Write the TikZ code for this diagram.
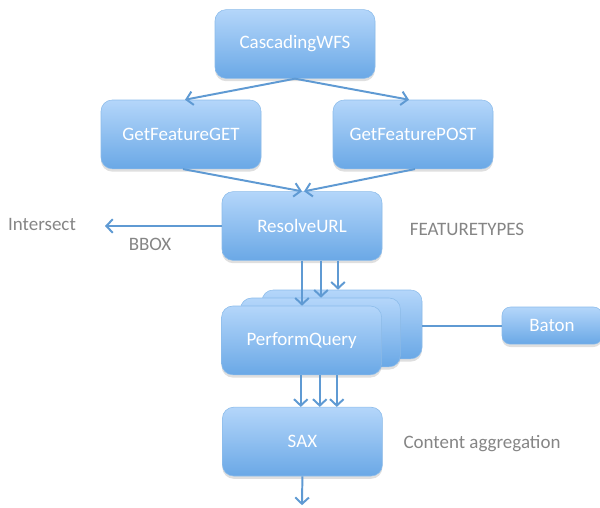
\documentclass[tikz,border=0pt]{standalone}
\usepackage{fontspec}
\setmainfont{Carlito}
\usetikzlibrary{arrows.meta, shadows, calc}
\definecolor{boxtop}{HTML}{B4D6FA}
\definecolor{boxbot}{HTML}{6AA8E6}
\definecolor{boxedge}{HTML}{8CBCEA}
\definecolor{linkcol}{HTML}{5F9AD3}
\definecolor{labgray}{HTML}{858585}
\begin{document}
\begin{tikzpicture}[
  every text node part/.style={align=center},
  font=\fontsize{13.5}{16}\selectfont,
  procsty/.style={draw=boxedge, top color=boxtop, bottom color=boxbot, rounded corners=8pt,
    text=white, minimum width=4cm, minimum height=1.72cm,
    drop shadow={opacity=0.25, shadow xshift=0pt, shadow yshift=-2pt}},
  smallsty/.style={procsty, minimum width=2.5cm, minimum height=0.93cm, rounded corners=6pt},
  arr/.style={draw=linkcol, line width=1.4pt, -{Straight Barb[length=1.6mm, width=3.4mm]}},
  link/.style={draw=linkcol, line width=1.4pt},
  lab/.style={text=labgray}
]
%general params
\def\dx{.475} %offset of second arrow
\def\ddx{.9}  %offset of third arrow

\useasboundingbox (0,0) rectangle (15,-12.7);

  \node[procsty] (CW)   at (7.375,-1.1)  {CascadingWFS};
  \node[procsty] (GET)  at (4.525,-3.36) {GetFeatureGET};
  \node[procsty] (POST) at (10.325,-3.36) {GetFeaturePOST};
  \node[procsty] (RU)   at (7.55,-5.65)  {ResolveURL};

  % stacked PerformQuery boxes
  \node[procsty] (PQb) at (8.55,-8.11) {};
  \node[procsty] (PQm) at (8.01,-8.31) {};
  \node[procsty] (PQ)  at (7.54,-8.51) {PerformQuery};

  \node[smallsty] (B)   at (13.8,-8.14) {Baton};
  \node[procsty]  (SAX) at (7.56,-11.04) {SAX};

  \node[lab] (IS) at (1.05,-5.6)   {Intersect};
  \node[lab] (BB) at (3.75,-6.1)   {BBOX};
  \node[lab] (FT) at (11.675,-5.725) {FEATURETYPES};
  \node[lab] (CA) at (12.05,-11.1) {Content aggregation};

  \coordinate (isend) at (2.625,-5.65);
  \coordinate (out)   at (7.55,-12.63);

  \draw[arr] (CW.south) -- ([xshift=.1cm]GET.north);
  \draw[arr] (CW.south) -- ([xshift=-.1cm]POST.north);
  \draw[arr] ([xshift=.05cm]GET.south) -- (RU.north);
  \draw[arr] ([xshift=.05cm]POST.south) -- ([xshift=.05cm]RU.north);

  \draw[arr] (RU.west) -- (isend);

  % three queries
  \coordinate (r1) at (RU.south);
  \coordinate (r2) at ([xshift=\dx cm]RU.south);
  \coordinate (r3) at ([xshift=\ddx cm]RU.south);
  \draw[arr] (r1) -- (r1 |- PQ.north);
  \draw[arr] (r2) -- (r2 |- PQm.north);
  \draw[arr] (r3) -- (r3 |- PQb.north);

  \coordinate (q1) at ([xshift=-.02cm]PQ.south);
  \coordinate (q2) at ([xshift=\dx cm]q1);
  \coordinate (q3) at ([xshift=\ddx cm]q1);
  \draw[arr] (q1) -- (q1 |- SAX.north);
  \draw[arr] (q2) -- (q2 |- SAX.north);
  \draw[arr] (q3) -- (q3 |- SAX.north);

  \draw[link] (PQb.east |- B.west) -- (B.west);
  \draw[arr] (SAX.south) -- (out);

\end{tikzpicture}
\end{document}
